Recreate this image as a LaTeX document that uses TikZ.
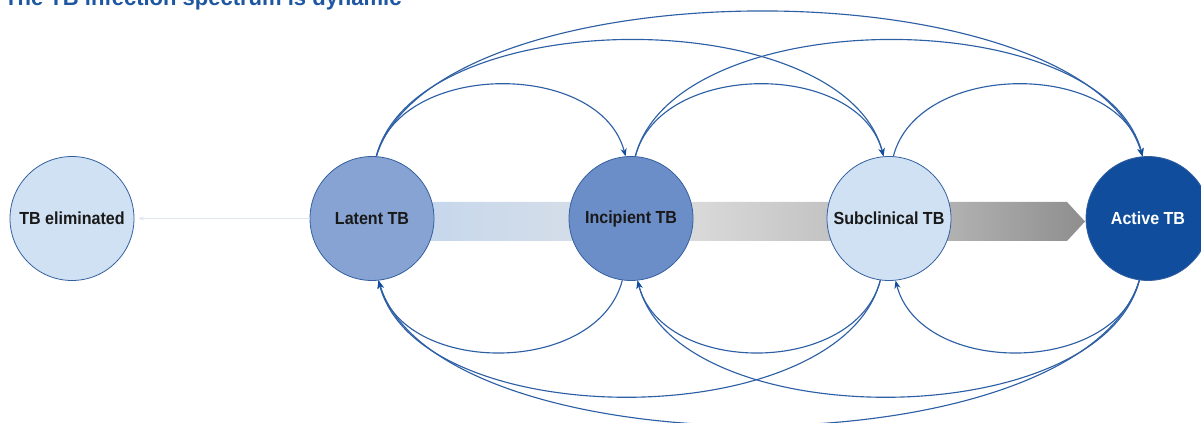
\documentclass[tikz,border=0pt]{standalone}
\usepackage{fontspec}
\setmainfont{Liberation Sans}
\newfontfamily\labfont[FakeStretch=0.92]{Liberation Sans}
\usetikzlibrary{arrows.meta}
\definecolor{titleblue}{RGB}{30,86,162}
\definecolor{elimfill}{RGB}{207,225,243}
\definecolor{latfill}{RGB}{134,163,211}
\definecolor{incfill}{RGB}{108,142,200}
\definecolor{actfill}{RGB}{17,77,157}
\definecolor{nodeborder}{RGB}{52,96,160}
\definecolor{arcblue}{RGB}{45,95,165}
\definecolor{faintline}{RGB}{222,230,240}
\definecolor{labeltext}{RGB}{25,25,25}
\definecolor{bandA}{RGB}{198,215,236}
\definecolor{bandB}{RGB}{211,221,233}
\definecolor{bandC}{RGB}{218,218,218}
\definecolor{bandD}{RGB}{196,196,196}
\definecolor{bandE}{RGB}{178,178,178}
\definecolor{bandF}{RGB}{142,142,142}
\pgfdeclarehorizontalshading{bandshade}{100bp}{color(0bp)=(bandA); color(25bp)=(bandA); color(35.4bp)=(bandB); color(45bp)=(bandC); color(55.2bp)=(bandD); color(64.6bp)=(bandE); color(75bp)=(bandF); color(100bp)=(bandF)}
\begin{document}
\begin{tikzpicture}[x=0.75pt,y=-0.75pt,
  statenode/.style={circle, draw=nodeborder, line width=0.6pt, minimum size=93pt, inner sep=0pt,
    font=\labfont\bfseries\fontsize{13.1}{15}\selectfont, text=labeltext},
  flowarc/.style={draw=arcblue, line width=0.85pt, -{Stealth[length=6pt,width=4.6pt,color=actfill]}},
  faintarrow/.style={draw=faintline, line width=0.6pt, -{Stealth[length=4pt,width=3pt]}, shorten >=3pt}
]
\useasboundingbox (0,0) rectangle (1201,423);
\clip (0,0) rectangle (1201,423);

% title (cropped at top)
\node[anchor=base west, inner sep=0pt, text=titleblue, font=\bfseries\fontsize{16.5}{18}\selectfont] (title) at (4,6) {The TB infection spectrum is dynamic};

% progression band
\coordinate (bandstart) at (425,202);
\shade[shading=bandshade] (425,202) -- (1067,202) -- (1085,221.5) -- (1067,241) -- (425,241) -- cycle;

% states
\node[statenode, fill=elimfill] (elim) at (72,218.5) {TB eliminated};
\node[statenode, fill=latfill] (lat) at (372,218.5) {Latent TB};
\node[statenode, fill=incfill] (inc) at (631,218.5) {Incipient TB};
\node[statenode, fill=elimfill] (sub) at (889,218.5) {Subclinical TB};
\node[statenode, fill=actfill, text=white] (act) at (1148,218.5) {Active TB};

% elimination
\draw[faintarrow] (lat.west) -- (elim.east);

% forward (top) arcs
\draw[flowarc] (lat.86) .. controls +(25,-96) and +(-25,-96) .. (inc.95);
\draw[flowarc] (inc.86) .. controls +(25,-96) and +(-25,-96) .. (sub.95);
\draw[flowarc] (sub.86) .. controls +(25,-96) and +(-25,-96) .. (act.95);
\draw[flowarc] (lat.86) .. controls +(40,-155) and +(-40,-155) .. (sub.95);
\draw[flowarc] (inc.86) .. controls +(40,-155) and +(-40,-155) .. (act.95);
\draw[flowarc] (lat.86) .. controls +(60,-193) and +(-60,-193) .. (act.95);

% backward (bottom) arcs
\draw[flowarc] (inc.262) .. controls +(-25,96) and +(25,96) .. (lat.276);
\draw[flowarc] (sub.262) .. controls +(-25,96) and +(25,96) .. (inc.276);
\draw[flowarc] (act.262) .. controls +(-25,96) and +(25,96) .. (sub.276);
\draw[flowarc] (sub.262) .. controls +(-40,155) and +(40,155) .. (lat.276);
\draw[flowarc] (act.262) .. controls +(-40,155) and +(40,155) .. (inc.276);
\draw[flowarc] (act.262) .. controls +(-60,193) and +(60,193) .. (lat.276);
\end{tikzpicture}
\end{document}
